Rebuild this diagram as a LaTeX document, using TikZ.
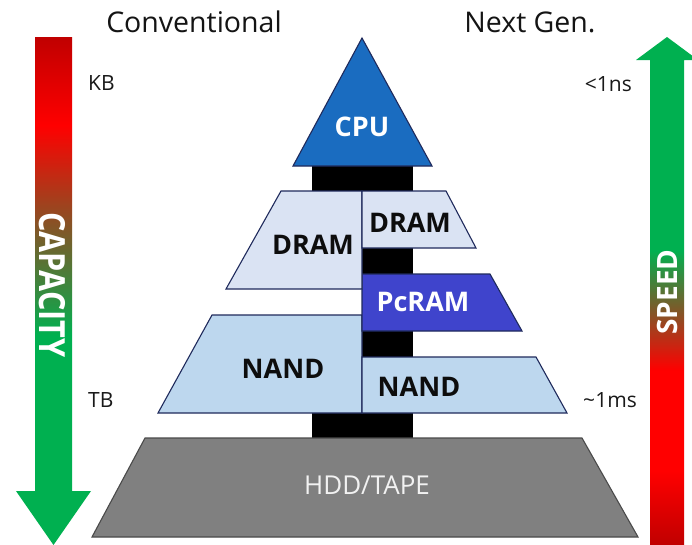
\documentclass[tikz,border=0pt]{standalone}
\usepackage{fontspec}
\setmainfont{Open Sans}
\usepackage{graphicx}
\definecolor{cgreen}{HTML}{00B050}
\definecolor{cred}{HTML}{FF0000}
\definecolor{cdark}{HTML}{C00000}
\definecolor{cpublue}{HTML}{1A6CC0}
\definecolor{navy}{HTML}{1F2A5C}
\definecolor{dramfill}{HTML}{DAE3F3}
\definecolor{pcramfill}{HTML}{3F44CC}
\definecolor{nandfill}{HTML}{BDD7EE}
\definecolor{hddfill}{HTML}{808080}
\definecolor{hddline}{HTML}{4A4A4A}
\definecolor{hddtext}{HTML}{F2F2F2}
\pgfdeclareverticalshading{capshade}{100bp}{color(0bp)=(cgreen); color(25bp)=(cgreen); color(45.6bp)=(cgreen); color(66.3bp)=(cred); color(75bp)=(cdark); color(100bp)=(cdark)}
\pgfdeclareverticalshading{speedshade}{100bp}{color(0bp)=(cdark); color(25bp)=(cdark); color(32.3bp)=(cred); color(42.2bp)=(cred); color(54bp)=(cgreen); color(75bp)=(cgreen); color(100bp)=(cgreen)}
\tikzset{
  layer/.style={draw=navy, line width=1.1pt, line join=miter},
  lbl/.style={inner sep=0pt, font=\fontsize{27}{31}\selectfont\bfseries, text=black!95},
  side/.style={inner sep=0pt, font=\fontsize{21}{25}\selectfont, text=black!90},
  title/.style={inner sep=0pt, font=\fontsize{28.5}{32}\selectfont, text=black!92}
}
\begin{document}
\begin{tikzpicture}[x=1pt, y=-1pt]
\useasboundingbox (0,0) rectangle (692,544);
\clip (0,0) rectangle (692,544);
\fill[white] (0,0) rectangle (692,544);
% side arrows
\shade[shading=capshade] (35,37) -- (72,37) -- (72,491) -- (91,491) -- (53.5,545) -- (16,491) -- (35,491) -- cycle;
\shade[shading=speedshade] (650,545) -- (650,60) -- (636,60) -- (667,37) -- (698,60) -- (684,60) -- (684,545) -- cycle;
\node[inner sep=0pt, rotate=-90, text=white, font=\fontsize{36}{40}\selectfont\bfseries] (cap) at (52,285) {\scalebox{0.85}[1]{CAPACITY}};
\node[inner sep=0pt, rotate=90, text=white, font=\fontsize{28}{32}\selectfont\bfseries] (spd) at (667,292) {SPEED};
% titles and side labels
\node[title] (conv) at (194,22) {Conventional};
\node[title] (next) at (530,22) {Next Gen.};
\node[side, anchor=west] (kb) at (88,83) {KB};
\node[side, anchor=west] (tb) at (88,400) {TB};
\node[side, anchor=east] (ns) at (632,84) {<1ns};
\node[side, anchor=east] (ms) at (637,400) {\textasciitilde1ms};
% black backbone
\fill[black] (312,164) rectangle (413,193);
\fill[black] (362,190) rectangle (413,416);
\fill[black] (312,411) rectangle (413,440);
% HDD
\draw[fill=hddfill, draw=hddline, line width=1.1pt] (145,438) -- (582,438) -- (638,537) -- (92,537) -- cycle;
\node[inner sep=0pt, text=hddtext, font=\fontsize{26}{30}\selectfont] (hdd) at (367,485) {HDD/TAPE};
% NAND
\draw[layer, fill=nandfill] (212,315) -- (362,315) -- (362,413) -- (158,413) -- cycle;
\draw[layer, fill=nandfill] (362,357) -- (536,357) -- (567,413) -- (362,413) -- cycle;
\node[lbl] (nandl) at (283,369) {NAND};
\node[lbl] (nandr) at (419,387) {NAND};
% PcRAM
\draw[layer, fill=pcramfill] (362,274) -- (490,274) -- (522,331) -- (362,331) -- cycle;
\node[lbl, text=white] (pcram) at (423,302) {PcRAM};
% DRAM
\draw[layer, fill=dramfill] (281,191) -- (362,191) -- (362,289) -- (226,289) -- cycle;
\draw[layer, fill=dramfill] (362,191) -- (446,191) -- (476,248) -- (362,248) -- cycle;
\node[lbl] (draml) at (313,245) {DRAM};
\node[lbl] (dramr) at (410,223) {DRAM};
% CPU
\draw[layer, fill=cpublue] (362,38) -- (432,166) -- (293,166) -- cycle;
\node[lbl, text=white] (cpu) at (362,127) {CPU};
\end{tikzpicture}
\end{document}
